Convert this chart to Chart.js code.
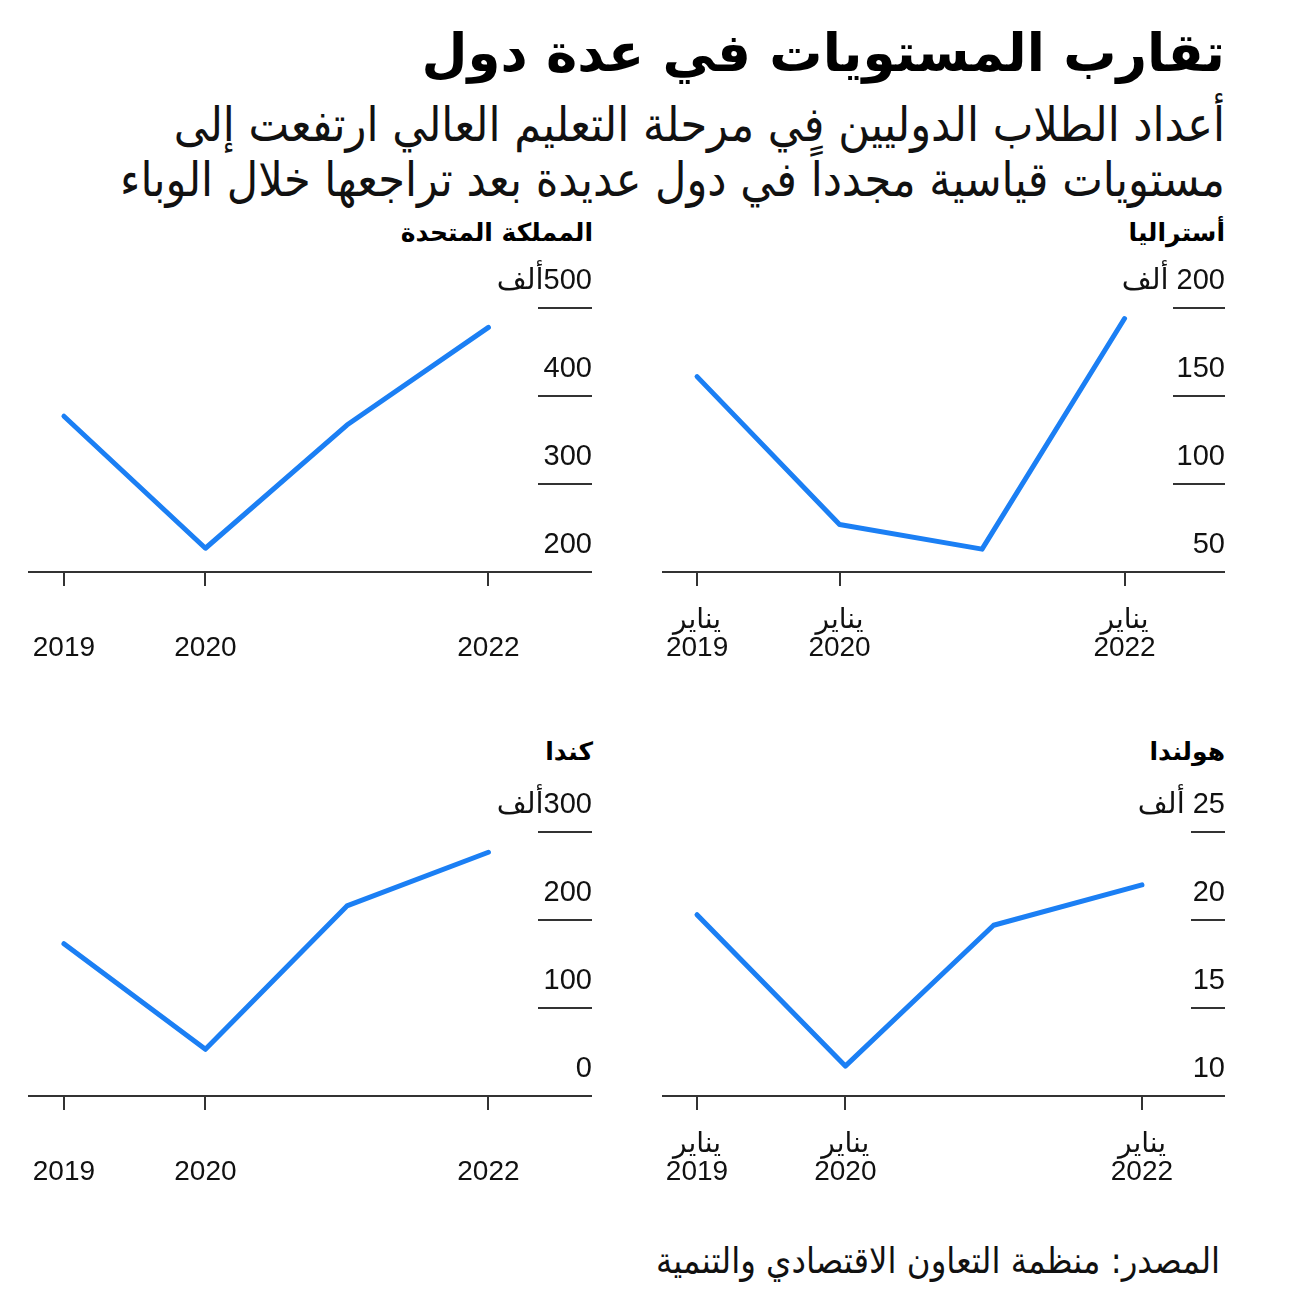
<!DOCTYPE html>
<html lang="ar" dir="rtl">
<head>
<meta charset="utf-8">
<script src="https://cdn.jsdelivr.net/npm/chart.js"></script>
<style>
  html, body { margin: 0; padding: 0; background: #fff; }
  body { width: 1296px; height: 1314px; position: relative; overflow: hidden; color: #111; font-family: "DejaVu Sans", sans-serif; }
  .title { position: absolute; right: 71px; top: 22px; font-size: 53px; font-weight: bold; white-space: nowrap; color: #000; }
  .subtitle { position: absolute; right: 71px; top: 97px; font-size: 48px; line-height: 55px; font-family: "DejaVu Sans Condensed", "DejaVu Sans", sans-serif; white-space: nowrap; }
  .panel-name { position: absolute; font-size: 25px; font-weight: bold; white-space: nowrap; color: #000; }
  canvas { position: absolute; }
  .source { position: absolute; right: 76px; top: 1240px; font-size: 36px; font-family: "DejaVu Sans Condensed", "DejaVu Sans", sans-serif; white-space: nowrap; }
</style>
</head>
<body>
  <div class="title">تقارب المستويات في عدة دول</div>
  <div class="subtitle">أعداد الطلاب الدوليين في مرحلة التعليم العالي ارتفعت إلى<br>مستويات قياسية مجدداً في دول عديدة بعد تراجعها خلال الوباء</div>

  <div class="panel-name" id="name0" style="right:71px; top:218px;"></div>
  <div class="panel-name" id="name1" style="right:703px; top:218px;"></div>
  <div class="panel-name" id="name2" style="right:71px; top:737px;"></div>
  <div class="panel-name" id="name3" style="right:703px; top:737px;"></div>

  <canvas id="chart0" width="563" height="420" style="left:662px; top:250px;"></canvas>
  <canvas id="chart1" width="564" height="420" style="left:28px; top:250px;"></canvas>
  <canvas id="chart2" width="563" height="420" style="left:662px; top:774px;"></canvas>
  <canvas id="chart3" width="564" height="420" style="left:28px; top:774px;"></canvas>

  <div class="source">المصدر: منظمة التعاون الاقتصادي والتنمية</div>

<script>
  // data (thousands of students, January of each year)
  const years = [2019, 2020, 2021, 2022];
  const tickYears = [2019, 2020, 2022];
  const countryNames = ["أستراليا", "المملكة المتحدة", "هولندا", "كندا"];

  const australia = [161, 77, 63, 194];
  const unitedKingdom = [377, 227, 367, 478];
  const netherlands = [20.3, 11.7, 19.7, 22.0];
  const canada = [173, 53, 216, 277];

  // y axis: min, max, step
  const australiaTicks = [50, 200, 50];
  const unitedKingdomTicks = [200, 500, 100];
  const netherlandsTicks = [10, 25, 5];
  const canadaTicks = [0, 300, 100];

  const monthLabel = "يناير";
  const thousandLabel = "ألف";

  const blue = "#1b7ff4";
  const ink = "#333";
  const family = '"Liberation Sans", "DejaVu Sans", sans-serif';
  const xFont = { family, size: 28, lineHeight: 28 / 28 };
  const yFont = { family, size: 29 };

  // short gridlines under the y labels, only at the right edge
  const shortGrid = {
    id: "shortGrid",
    beforeDatasetsDraw(chart, args, opts) {
      const { ctx, chartArea, scales } = chart;
      const y = scales.y;
      ctx.save();
      ctx.strokeStyle = ink;
      ctx.lineWidth = 2;
      y.ticks.forEach((t) => {
        if (t.value === y.min) return;
        const py = Math.round(y.getPixelForValue(t.value));
        ctx.beginPath();
        ctx.moveTo(chartArea.right - opts.length, py);
        ctx.lineTo(chartArea.right, py);
        ctx.stroke();
      });
      ctx.restore();
    },
  };

  const panels = [
    { values: australia, ticks: australiaTicks, xMin: 2018.754, xMax: 2022.705, month: true, unit: " " + thousandLabel, grid: 52 },
    { values: unitedKingdom, ticks: unitedKingdomTicks, xMin: 2018.746, xMax: 2022.732, month: false, unit: thousandLabel, grid: 54 },
    { values: netherlands, ticks: netherlandsTicks, xMin: 2018.764, xMax: 2022.56, month: true, unit: " " + thousandLabel, grid: 34 },
    { values: canada, ticks: canadaTicks, xMin: 2018.746, xMax: 2022.732, month: false, unit: thousandLabel, grid: 54 },
  ];

  panels.forEach((p, i) => {
    document.getElementById("name" + i).textContent = countryNames[i];
    const [yMin, yMax, yStep] = p.ticks;

    new Chart(document.getElementById("chart" + i), {
      type: "line",
      data: {
        datasets: [
          {
            data: years.map((yr, k) => ({ x: yr, y: p.values[k] })),
            borderColor: blue,
            borderWidth: 5,
            borderCapStyle: "round",
            borderJoinStyle: "round",
            pointRadius: 0,
            tension: 0,
          },
        ],
      },
      options: {
        responsive: false,
        animation: false,
        layout: { autoPadding: false, padding: { top: 58, right: 0, bottom: 0, left: 0 } },
        plugins: {
          legend: { display: false },
          tooltip: { enabled: false },
          shortGrid: { length: p.grid },
        },
        scales: {
          x: {
            type: "linear",
            min: p.xMin,
            max: p.xMax,
            afterBuildTicks: (scale) => {
              scale.ticks = tickYears.map((v) => ({ value: v }));
            },
            afterFit: (scale) => {
              scale.paddingLeft = 0;
              scale.paddingRight = 0;
              scale.height = 98;
            },
            border: { display: true, color: ink, width: 2 },
            grid: { drawOnChartArea: false, drawTicks: true, tickLength: 14, color: ink, lineWidth: 2 },
            ticks: {
              autoSkip: false,
              maxRotation: 0,
              padding: 20,
              color: "#111",
              font: xFont,
              callback: (v) => [p.month ? monthLabel : "", String(v)],
            },
          },
          y: {
            position: "right",
            min: yMin,
            max: yMax,
            afterFit: (scale) => {
              scale.width = 0;
              scale.paddingTop = 0;
              scale.paddingBottom = 0;
            },
            grid: { display: false, drawTicks: false },
            border: { display: false },
            ticks: {
              stepSize: yStep,
              mirror: true,
              padding: 0,
              labelOffset: -27,
              color: "#111",
              font: yFont,
              callback: (v) => (v === yMax ? v + p.unit : String(v)),
            },
          },
        },
      },
      plugins: [shortGrid],
    });
  });
</script>
</body>
</html>
